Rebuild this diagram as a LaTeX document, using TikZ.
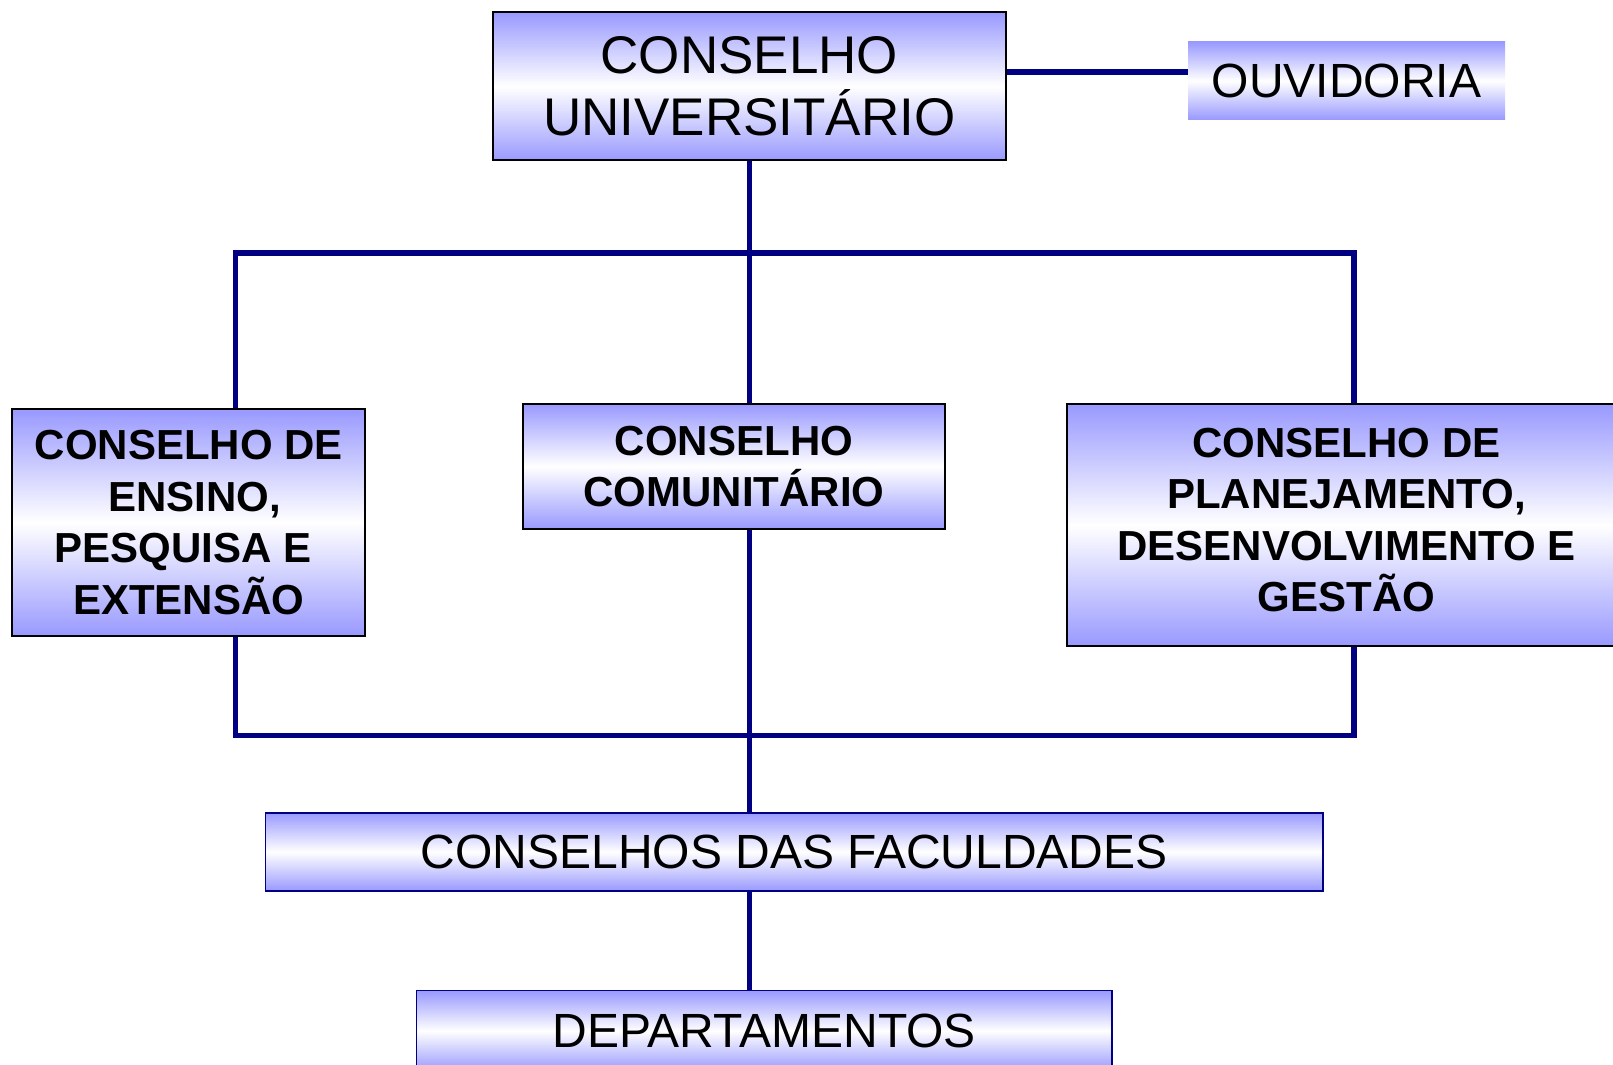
\documentclass[tikz,border=0pt]{standalone}
\usepackage{fontspec}
\setmainfont{Liberation Sans}
\usetikzlibrary{backgrounds}
\definecolor{navyline}{RGB}{0,0,128}
\definecolor{boxblue}{RGB}{153,153,255}
\begin{document}
\begin{tikzpicture}[x=0.5pt,y=-0.5pt,
  box/.style={rectangle, inner sep=0pt, align=center, top color=boxblue, bottom color=boxblue, middle color=white},
  blackbox/.style={box, draw=black, line width=1pt},
  bluebox/.style={box, draw=navyline, line width=0.8pt},
  plainbox/.style={box},
  bigtext/.style={font=\fontsize{26.5}{31}\selectfont},
  midtext/.style={font=\fontsize{24}{28}\selectfont},
  boldtext/.style={font=\fontsize{21}{25.7}\selectfont\bfseries},
  conn/.style={draw=navyline, line width=2.7pt, line join=miter}
]
\useasboundingbox (0,0) rectangle (1613,1065);
\clip (0,0) rectangle (1613,1065);

\node[blackbox, bigtext, minimum width=256.7pt, minimum height=74.1pt] (top) at (749.4,86.4) {CONSELHO\\UNIVERSITÁRIO};
\node[plainbox, midtext, minimum width=158.5pt, minimum height=38.9pt] (ouv) at (1346.5,80.8) {OUVIDORIA};
\node[blackbox, boldtext, minimum width=176.5pt, minimum height=113.2pt] (lb) at (188.8,522.5) {CONSELHO DE\\\kern6pt ENSINO,\\PESQUISA E\kern6pt\\EXTENSÃO};
\node[blackbox, boldtext, minimum width=211.4pt, minimum height=62.3pt] (mid) at (734,466.5) {CONSELHO\\COMUNITÁRIO};
\node[blackbox, minimum width=279.8pt, minimum height=120.9pt,
      label={[boldtext, align=center, yshift=2.6pt]center:CONSELHO DE\\PLANEJAMENTO,\\DESENVOLVIMENTO E\\GESTÃO}] (rb) at (1346.6,525.2) {};
\node[bluebox, midtext, minimum width=528.8pt, minimum height=39.1pt] (fac) at (794.2,851.8) {CONSELHOS DAS FACULDADES};
\node[bluebox, midtext, minimum width=347.7pt, minimum height=40.2pt] (dep) at (764.3,1030.8) {DEPARTAMENTOS};

\coordinate (busL) at (235.6,253);
\coordinate (busR) at (1353.8,253);
\coordinate (lowL) at (235.6,735.5);
\coordinate (lowR) at (1353.8,735.5);
\coordinate (ouvy) at (0,72);

\begin{pgfonlayer}{background}
\draw[conn] (top.east |- ouvy) -- (ouv.west |- ouvy);
\draw[conn] (top.south) -- (top.south |- mid.north);
\draw[conn] (busL |- lb.north) -- (busL) -- (busR) -- (busR |- rb.north);
\draw[conn] (lowL |- lb.south) -- (lowL) -- (lowR) -- (lowR |- rb.south);
\draw[conn] (top.south |- mid.south) -- (top.south |- fac.north);
\draw[conn] (top.south |- fac.south) -- (top.south |- dep.north);
\end{pgfonlayer}
\end{tikzpicture}
\end{document}
